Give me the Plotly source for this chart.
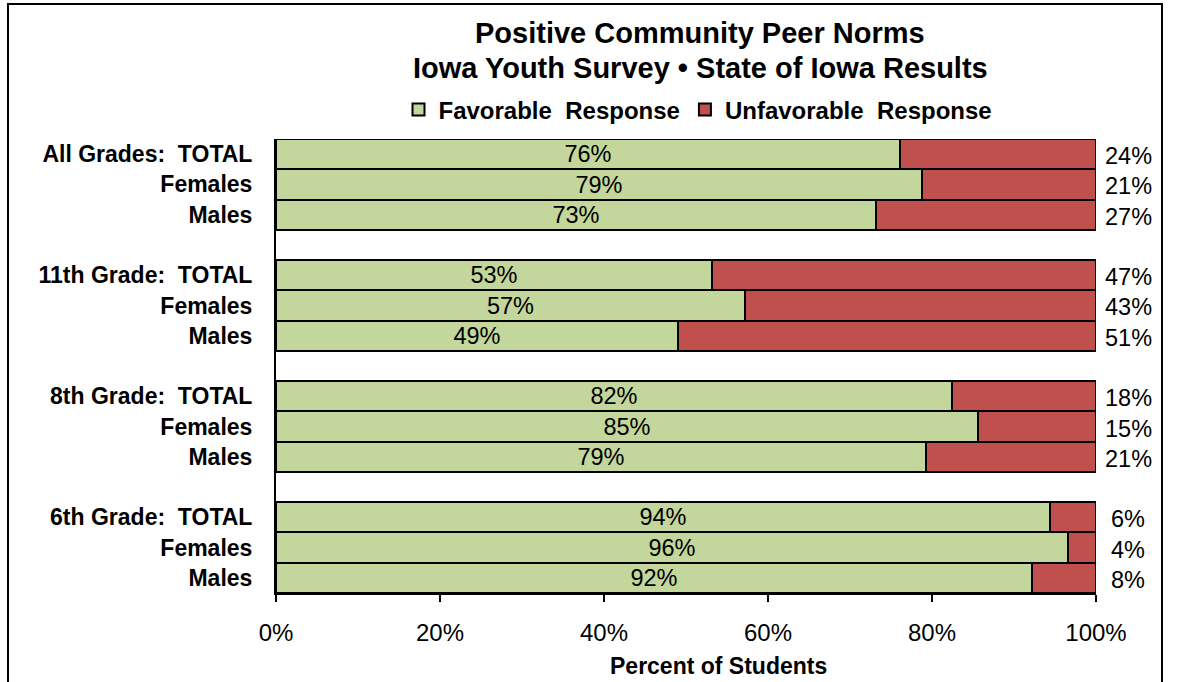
import plotly.graph_objects as go

categories = ["All Grades:\u00a0\u00a0TOTAL", "Females", "Males",
              "11th Grade:\u00a0\u00a0TOTAL", "Females", "Males",
              "8th Grade:\u00a0\u00a0TOTAL", "Females", "Males",
              "6th Grade:\u00a0\u00a0TOTAL", "Females", "Males"]
favorable = [76.1, 78.8, 73.2, 53.2, 57.2, 49.0, 82.4, 85.6, 79.3, 94.4, 96.6, 92.2]
unfavorable = [23.9, 21.2, 26.8, 46.8, 42.8, 51.0, 17.6, 14.4, 20.7, 5.6, 3.4, 7.8]
fav_labels = ["76%", "79%", "73%", "53%", "57%", "49%", "82%", "85%", "79%", "94%", "96%", "92%"]
unfav_labels = ["24%", "21%", "27%", "47%", "43%", "51%", "18%", "15%", "21%", "6%", "4%", "8%"]
x_ticks = [0, 20, 40, 60, 80, 100]
x_ticklabels = ["0%", "20%", "40%", "60%", "80%", "100%"]

# row positions: 3 bars per group, one empty slot between groups
ypos = [g * 4 + i for g in range(4) for i in range(3)]

FONT = "Liberation Sans, Arial, sans-serif"
GREEN = "#C3D69B"
RED = "#C0504D"

fig = go.Figure()
fig.add_trace(go.Bar(
    y=ypos, x=favorable, orientation="h", name="Favorable\u00a0\u00a0Response",
    marker=dict(color=GREEN, line=dict(color="black", width=2)),
    text=fav_labels, textposition="inside", insidetextanchor="middle",
    textfont=dict(family=FONT, size=23.5, color="black"), width=1,
    constraintext="none", hoverinfo="skip",
))
fig.add_trace(go.Bar(
    y=ypos, x=unfavorable, orientation="h", name="Unfavorable\u00a0\u00a0Response",
    marker=dict(color=RED, line=dict(color="black", width=2)),
    width=1, hoverinfo="skip",
))

L, R, T, B = 276, 107, 139, 89
W, H = 1203, 682
pw, ph = W - L - R, H - T - B

def px(x):
    return (x - L) / pw

def py(y):
    return (H - B - y) / ph

# unfavorable value labels in the column right of the plot
for yv, lab in zip(ypos, unfav_labels):
    fig.add_annotation(x=px(1128), y=yv, xref="paper", yref="y", text=lab, showarrow=False,
                       font=dict(family=FONT, size=23.5, color="black"),
                       xanchor="center", yanchor="middle", yshift=-2)

# titles
fig.add_annotation(x=px(700), y=py(33), xref="paper", yref="paper",
                   text="<b>Positive Community Peer Norms</b>", showarrow=False,
                   font=dict(family=FONT, size=29, color="black"), xanchor="center", yanchor="middle")
fig.add_annotation(x=px(700), y=py(68), xref="paper", yref="paper",
                   text="<b>Iowa Youth Survey \u2022 State of Iowa Results</b>", showarrow=False,
                   font=dict(family=FONT, size=29, color="black"), xanchor="center", yanchor="middle")
fig.add_annotation(x=px(718), y=py(666), xref="paper", yref="paper",
                   text="<b>Percent of Students</b>", showarrow=False,
                   font=dict(family=FONT, size=23, color="black"), xanchor="center", yanchor="middle")

# outer border
fig.add_shape(type="rect", xref="paper", yref="paper",
              x0=px(8), x1=px(1162), y0=py(700), y1=py(4),
              line=dict(color="black", width=2), fillcolor="rgba(0,0,0,0)", layer="below")

fig.update_layout(
    width=W, height=H,
    margin=dict(l=L, r=R, t=T, b=B, pad=0),
    barmode="stack", bargap=0,
    plot_bgcolor="white", paper_bgcolor="white",
    font=dict(family=FONT, color="black"),
    showlegend=True,
    legend=dict(orientation="h", x=px(698), xanchor="center", y=py(110), yanchor="middle",
                font=dict(family=FONT, size=24, color="black", weight="bold"),
                itemwidth=30, traceorder="normal", bgcolor="rgba(0,0,0,0)"),
    xaxis=dict(range=[0, 100], tickvals=x_ticks, ticktext=x_ticklabels,
               showgrid=False, zeroline=False, showline=True, linecolor="black", linewidth=2,
               ticks="outside", ticklen=7, tickwidth=2, tickcolor="black",
               tickfont=dict(family=FONT, size=24, color="black"), ticklabelstandoff=10),
    yaxis=dict(range=[14.5, -0.5], tickvals=ypos, ticktext=[f"<b>{c}</b>" for c in categories],
               showgrid=False, zeroline=False, showline=True, linecolor="black", linewidth=2,
               ticks="", tickfont=dict(family=FONT, size=23, color="black"), ticklabelstandoff=17),
)

fig.write_html("out.html", config={"displayModeBar": False},
               post_script="document.body.style.margin='0';document.body.style.overflow='hidden';")
